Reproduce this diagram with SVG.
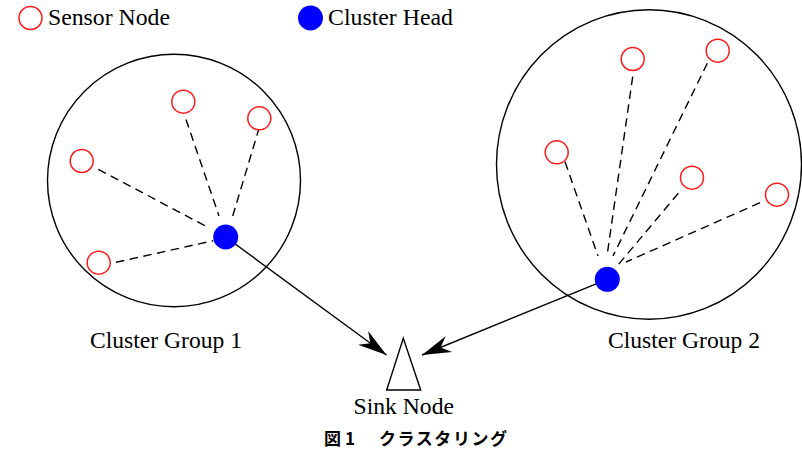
<svg xmlns="http://www.w3.org/2000/svg" width="802" height="450" viewBox="0 0 802 450">
<style>
  .lbl { font-family: "Liberation Serif", "Times New Roman", serif; font-size: 23px; fill: #000; }
  .cap { font-family: "Noto Sans CJK JP", "Noto Sans", sans-serif; font-size: 17px; font-weight: bold; fill: #000; }
  .sensor { fill: #fff; stroke: #ff1a1a; stroke-width: 1.5; }
  .head { fill: #0000ff; stroke: none; }
  .group { fill: none; stroke: #000; stroke-width: 1.4; }
  .dash { stroke: #000; stroke-width: 1.4; stroke-dasharray: 8.5 5.5; fill: none; }
  .link { stroke: #000; stroke-width: 1.4; fill: none; }
</style>
<defs>
  <marker id="arrow" viewBox="-30 -10 32 20" refX="0" refY="0" markerWidth="32" markerHeight="20" markerUnits="userSpaceOnUse" orient="auto">
    <path d="M0,0 L-29,-8.5 L-20,0 L-29,8.5 Z" fill="#000"/>
  </marker>
</defs>
<rect width="802" height="450" fill="#fff"/>

<g id="legend">
  <circle class="sensor" cx="30.5" cy="18" r="11.5"/>
  <text class="lbl" x="48" y="25" textLength="122" lengthAdjust="spacingAndGlyphs">Sensor Node</text>
  <circle class="head" cx="310.5" cy="18" r="12.5"/>
  <text class="lbl" x="328" y="25" textLength="125" lengthAdjust="spacingAndGlyphs">Cluster Head</text>
</g>

<g id="cluster-group-1">
  <ellipse class="group" cx="174" cy="180.5" rx="126.5" ry="126.3"/>
  <text class="lbl" x="90" y="348" textLength="152" lengthAdjust="spacingAndGlyphs">Cluster Group 1</text>
</g>
<g id="cluster-group-2">
  <ellipse class="group" cx="649" cy="164.5" rx="152.5" ry="154.8"/>
  <text class="lbl" x="608" y="348" textLength="152" lengthAdjust="spacingAndGlyphs">Cluster Group 2</text>
</g>

<g id="connectors">
  <line class="dash" x1="186" y1="119.5" x2="219" y2="216"/>
  <line class="dash" x1="259.3" y1="127.5" x2="232.7" y2="216"/>
  <line class="dash" x1="98.3" y1="169.3" x2="206.7" y2="226.7"/>
  <line class="dash" x1="116" y1="262.3" x2="213.3" y2="240.7"/>
  <line class="dash" x1="565" y1="161.7" x2="598" y2="256"/>
  <line class="dash" x1="632.7" y1="76.7" x2="607" y2="256"/>
  <line class="dash" x1="707.3" y1="63.3" x2="613" y2="256"/>
  <line class="dash" x1="678.3" y1="193.3" x2="618" y2="265"/>
  <line class="dash" x1="760" y1="202.7" x2="626" y2="262"/>
  <line class="link" x1="225.7" y1="237" x2="386.5" y2="355" marker-end="url(#arrow)"/>
  <line class="link" x1="607.3" y1="279.3" x2="422" y2="355" marker-end="url(#arrow)"/>
</g>

<g id="sensors-1">
  <circle class="sensor" cx="183.3" cy="101.7" r="11.5"/>
  <circle class="sensor" cx="259.3" cy="118.3" r="11.5"/>
  <circle class="sensor" cx="81.7" cy="161" r="11.5"/>
  <circle class="sensor" cx="98.7" cy="262.7" r="11.5"/>
</g>
<g id="head-1">
  <circle class="head" cx="225.7" cy="237" r="12.5"/>
</g>
<g id="sensors-2">
  <circle class="sensor" cx="632.7" cy="59" r="11.5"/>
  <circle class="sensor" cx="717.7" cy="50.7" r="11.5"/>
  <circle class="sensor" cx="556.7" cy="152.3" r="11.5"/>
  <circle class="sensor" cx="692" cy="177.7" r="11.5"/>
  <circle class="sensor" cx="777" cy="194.7" r="11.5"/>
</g>
<g id="head-2">
  <circle class="head" cx="607.3" cy="279.3" r="12.5"/>
</g>

<g id="sink">
  <polygon points="403.3,338.3 386.7,390 420.7,390" fill="#fff" stroke="#000" stroke-width="1.4" stroke-linejoin="miter"/>
  <text class="lbl" x="353.5" y="413.5" textLength="100.5" lengthAdjust="spacingAndGlyphs">Sink Node</text>
</g>

<g id="caption">
  <text class="cap" x="324" y="445">図</text>
  <text class="cap" x="345" y="445">1</text>
  <text class="cap" x="379" y="445" textLength="128" lengthAdjust="spacing">クラスタリング</text>
</g>
</svg>
